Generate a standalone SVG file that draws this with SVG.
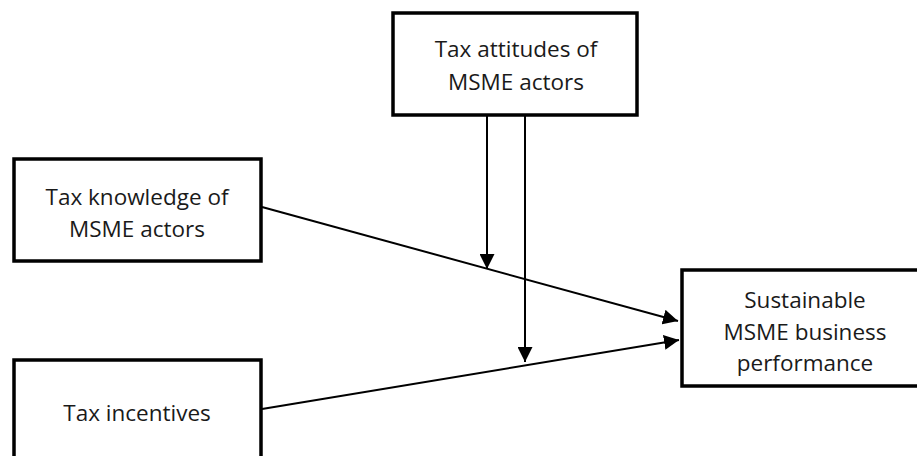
<svg xmlns="http://www.w3.org/2000/svg" width="917" height="456" viewBox="0 0 917 456">
<defs>
<marker id="arr" markerUnits="userSpaceOnUse" markerWidth="16" markerHeight="15" refX="15" refY="7.5" orient="auto">
<path d="M0,0 L15,7.5 L0,15 z" fill="#000"/>
</marker>
<style>
.box{fill:#fff;stroke:#000;stroke-width:3.5}
.lbl{font-family:"Open Sans","Noto Sans",sans-serif;font-size:22.5px;fill:#1a1a1a;text-anchor:middle}
.con{stroke:#000;stroke-width:2;fill:none}
</style>
</defs>
<rect width="917" height="456" fill="#fff"/>
<g id="attitudes">
<rect class="box" x="393" y="13" width="244" height="102"/>
<text class="lbl" x="516" y="57">Tax attitudes of</text>
<text class="lbl" x="516" y="90">MSME actors</text>
</g>
<g id="knowledge">
<rect class="box" x="14" y="159" width="247" height="102"/>
<text class="lbl" x="137" y="205">Tax knowledge of</text>
<text class="lbl" x="137" y="237">MSME actors</text>
</g>
<g id="incentives">
<rect class="box" x="14" y="360" width="247" height="102"/>
<text class="lbl" x="137" y="421">Tax incentives</text>
</g>
<g id="performance">
<rect class="box" x="682" y="270" width="247" height="116"/>
<text class="lbl" x="805" y="308">Sustainable</text>
<text class="lbl" x="805" y="340">MSME business</text>
<text class="lbl" x="805" y="371">performance</text>
</g>
<g id="connectors">
<line class="con" x1="262" y1="207" x2="678" y2="321" marker-end="url(#arr)"/>
<line class="con" x1="262" y1="409" x2="679" y2="340" marker-end="url(#arr)"/>
<line class="con" x1="487" y1="116" x2="487" y2="269" marker-end="url(#arr)"/>
<line class="con" x1="525" y1="116" x2="525" y2="362" marker-end="url(#arr)"/>
</g>
</svg>
